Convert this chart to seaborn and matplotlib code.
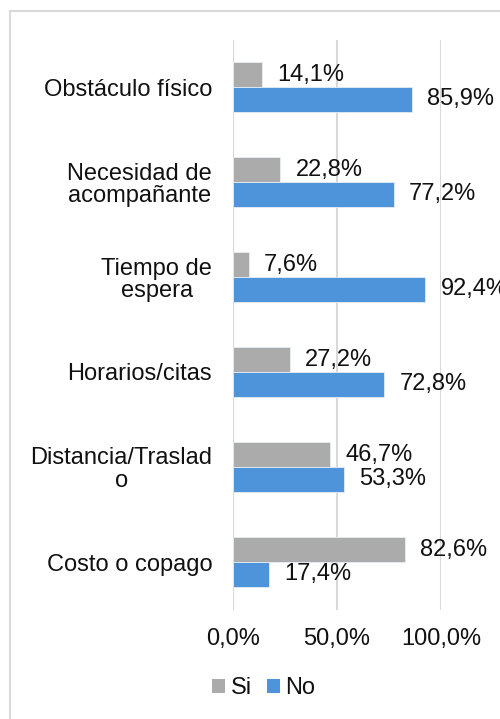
import matplotlib
matplotlib.use("Agg")
import matplotlib.pyplot as plt
import seaborn as sns
import pandas as pd
from matplotlib.patches import Rectangle, Patch

categories = ["Obstáculo físico", "Necesidad de\nacompañante", "Tiempo de\nespera",
              "Horarios/citas", "Distancia/Traslad\no", "Costo o copago"]
si_values = [14.1, 22.8, 7.6, 27.2, 46.7, 82.6]
no_values = [85.9, 77.2, 92.4, 72.8, 53.3, 17.4]
series = ["Si", "No"]
colors = {"Si": "#ABABAB", "No": "#4E94DA"}
x_ticks = [0, 50, 100]
x_tick_labels = ["0,0%", "50,0%", "100,0%"]

df = pd.DataFrame({
    "cat": categories * 2,
    "serie": ["Si"] * len(categories) + ["No"] * len(categories),
    "val": si_values + no_values,
})

sns.set_theme(style="white")
plt.rcParams["font.family"] = ["Liberation Sans", "DejaVu Sans"]

W, H = 500, 719
fig = plt.figure(figsize=(5, 7.19), dpi=100)
ax = fig.add_axes([233 / W, 1 - 609.5 / H, (441 - 233) / W, (609.5 - 39.5) / H])

sns.barplot(data=df, y="cat", x="val", hue="serie", hue_order=series,
            order=categories, palette=colors, orient="h", width=0.52,
            ax=ax, legend=False, edgecolor="#E8EEF5", linewidth=0.6, saturation=1)

for cont in ax.containers:
    labels = [f"{b.get_width():.1f}%".replace(".", ",") for b in cont]
    ax.bar_label(cont, labels=labels, padding=11, fontsize=17, color="#111111")

ax.set_xlim(0, 100)
ax.set_xticks(x_ticks)
ax.set_xticklabels(x_tick_labels)
ax.set_xlabel("")
ax.set_ylabel("")
ax.xaxis.grid(True, color="#D9D9D9", linewidth=1.5)
ax.set_axisbelow(True)
for s in ax.spines.values():
    s.set_visible(False)
ax.tick_params(axis="x", length=0, pad=13, labelsize=17, colors="#111111")
ax.tick_params(axis="y", length=0, pad=15, labelsize=17, colors="#111111")
for lbl in ax.get_yticklabels():
    lbl.set_ha("right")
    lbl.set_multialignment("center")
    lbl.set_linespacing(1.05)

handles = [Patch(facecolor=colors[s], edgecolor="none") for s in series]
fig.legend(handles, series, loc="center", bbox_to_anchor=(264 / W, 1 - 688 / H),
           ncol=2, frameon=False, fontsize=17, handlelength=0.55, handleheight=0.55,
           handletextpad=0.25, columnspacing=0.6, labelcolor="#111111")

fig.patches.append(Rectangle((10 / W, -0.1), 1.2, 1 - 11 / H + 0.1,
                             transform=fig.transFigure, fill=False,
                             edgecolor="#D9D9D9", linewidth=1.5, clip_on=False))

fig.savefig("out.png", dpi=100)
